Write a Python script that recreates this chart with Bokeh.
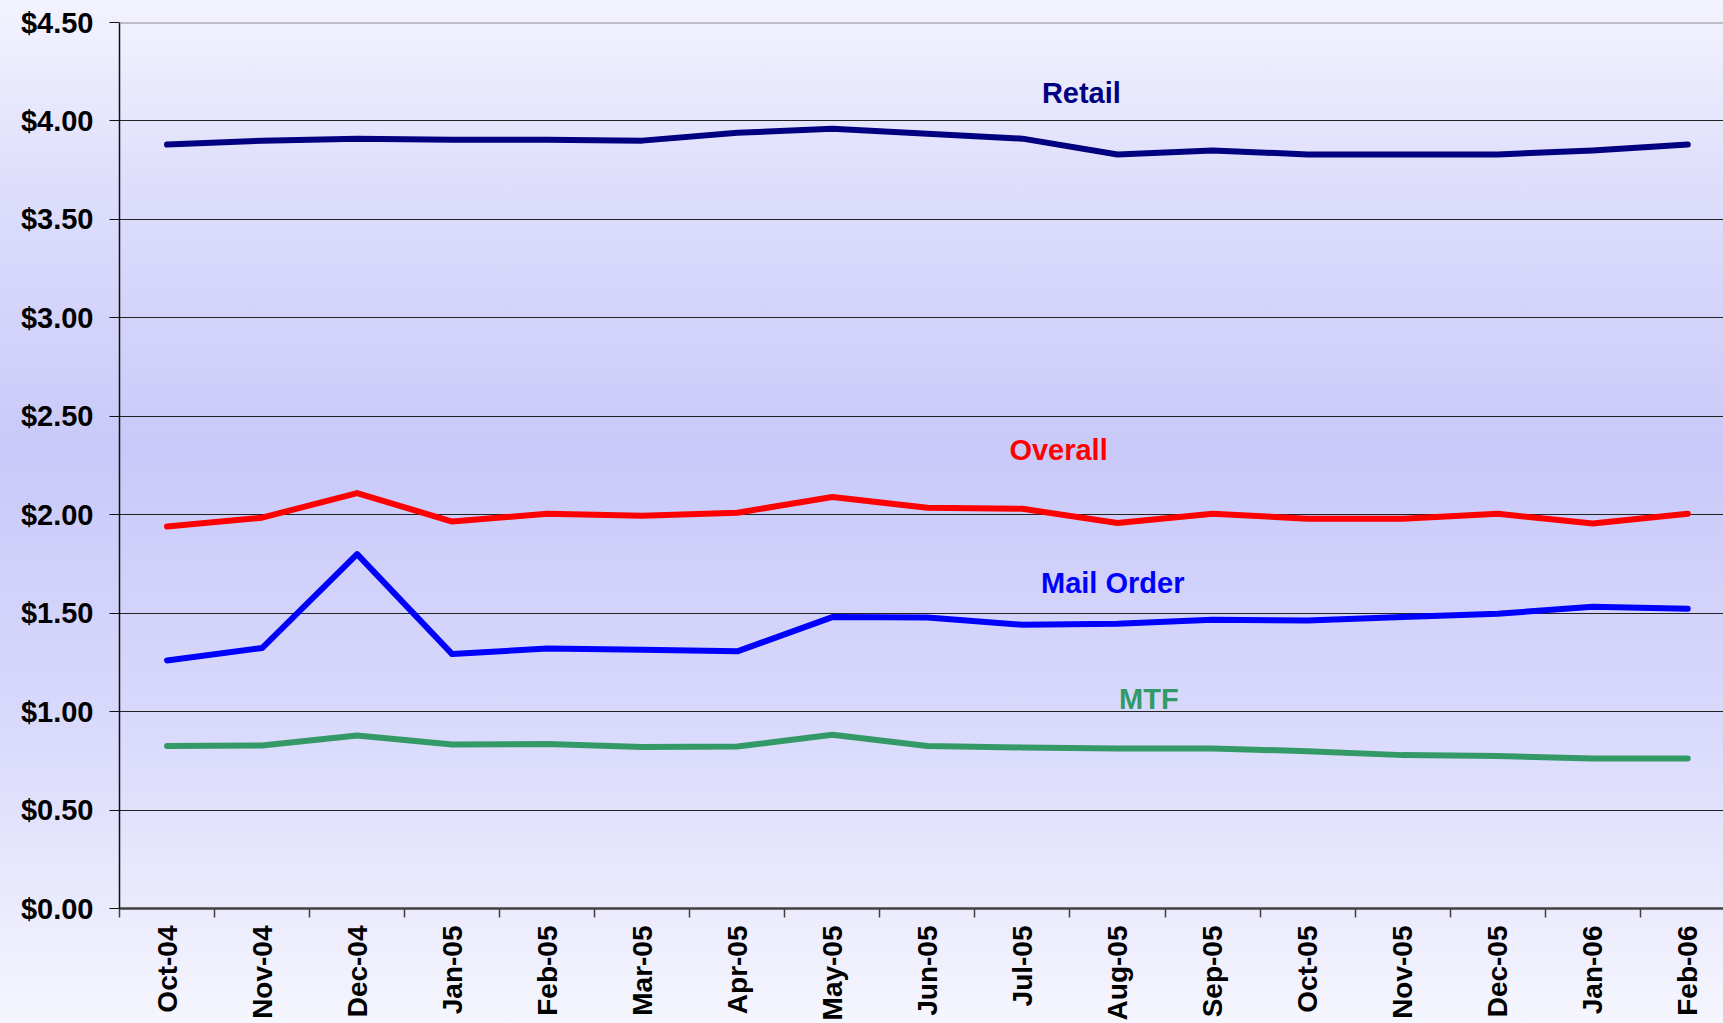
import math
from bokeh.plotting import figure
from bokeh.models import (Range1d, FixedTicker, NumeralTickFormatter, CustomJSTickFormatter,
                          Span, ColumnDataSource, InlineStyleSheet)
from bokeh.core.properties import value
from bokeh.embed import file_html
from bokeh.resources import INLINE

months = ["Oct-04", "Nov-04", "Dec-04", "Jan-05", "Feb-05", "Mar-05", "Apr-05", "May-05",
          "Jun-05", "Jul-05", "Aug-05", "Sep-05", "Oct-05", "Nov-05", "Dec-05", "Jan-06", "Feb-06"]

retail = [3.88, 3.90, 3.91, 3.905, 3.905, 3.90, 3.94, 3.96, 3.935, 3.91, 3.83, 3.85, 3.83,
          3.83, 3.83, 3.85, 3.88]
overall = [1.94, 1.985, 2.11, 1.965, 2.005, 1.995, 2.01, 2.09, 2.035, 2.03, 1.958, 2.005, 1.98,
           1.98, 2.005, 1.955, 2.005]
mail_order = [1.26, 1.323, 1.80, 1.292, 1.321, 1.314, 1.306, 1.48, 1.478, 1.441, 1.446, 1.466,
              1.463, 1.481, 1.497, 1.532, 1.523]
mtf = [0.825, 0.828, 0.879, 0.833, 0.836, 0.82, 0.823, 0.882, 0.825, 0.818, 0.813, 0.813,
       0.799, 0.779, 0.774, 0.762, 0.762]

series_names = ["Retail", "Overall", "Mail Order", "MTF"]
series_values = [retail, overall, mail_order, mtf]
series_colors = ["#000080", "#FF0000", "#0000FF", "#339966"]
y_ticks = [0.0, 0.5, 1.0, 1.5, 2.0, 2.5, 3.0, 3.5, 4.0, 4.5]

FONT = "Liberation Sans"

x_pos = [i + 0.5 for i in range(len(months))]

p = figure(width=1723, height=1023, output_backend="svg", toolbar_location=None,
           x_range=Range1d(0, 16.876), y_range=Range1d(0, 4.5),
           min_border_left=119, min_border_top=22, min_border_right=0, min_border_bottom=0)

p.stylesheets = [InlineStyleSheet(css=":host { background: linear-gradient(to bottom, #F3F3FE 0%, #DEDEFC 18%, #C9C9F9 44%, #DADAFC 72%, #F6F6FE 100%); }")]
p.background_fill_color = None
p.border_fill_color = None
p.outline_line_color = None

# lines
for vals, col in zip(series_values, series_colors):
    src = ColumnDataSource(dict(x=x_pos, y=vals))
    p.line("x", "y", source=src, line_color=col, line_width=6,
           line_cap="round", line_join="round")

# series labels
label_x = [10.12, 9.88, 10.45, 10.83]
label_y = [4.14, 2.33, 1.655, 1.065]
p.text(x=label_x, y=label_y, text=series_names, text_color=series_colors,
       text_font=value(FONT), text_font_style="bold", text_font_size="29px",
       text_align="center", text_baseline="middle")

# grid
p.xgrid.visible = False
p.ygrid.ticker = FixedTicker(ticks=y_ticks[1:-1])
p.ygrid.grid_line_color = "#222222"
p.ygrid.grid_line_width = 1
p.add_layout(Span(location=4.5, dimension="width", line_color="#8a8a8a", line_width=2))

# y axis
ya = p.yaxis[0]
ya.ticker = FixedTicker(ticks=y_ticks)
ya.formatter = NumeralTickFormatter(format="$0.00")
ya.major_label_text_font = FONT
ya.major_label_text_font_style = "bold"
ya.major_label_text_font_size = "29px"
ya.major_label_text_color = "#000000"
ya.major_tick_out = 10
ya.major_tick_in = 0
ya.minor_tick_out = 0
ya.minor_tick_in = 0
ya.major_label_standoff = 16
ya.axis_line_color = "#111111"
ya.axis_line_width = 1.5
ya.major_tick_line_color = "#111111"

# x axis
xa = p.xaxis[0]
xa.ticker = FixedTicker(ticks=x_pos, minor_ticks=list(range(len(months))))
xa.formatter = CustomJSTickFormatter(args=dict(labels=months),
                                     code="const i = Math.floor(tick); return (i >= 0 && i < labels.length) ? labels[i] : '';")
xa.major_label_orientation = math.pi / 2
xa.major_label_text_font = FONT
xa.major_label_text_font_style = "bold"
xa.major_label_text_font_size = "28px"
xa.major_label_text_color = "#000000"
xa.major_tick_out = 0
xa.major_tick_in = 0
xa.minor_tick_out = 9
xa.minor_tick_in = 0
xa.minor_tick_line_color = "#404040"
xa.minor_tick_line_width = 1.5
xa.major_label_standoff = 8
xa.axis_line_color = "#404040"
xa.axis_line_width = 2.5

open("out.html", "w").write(file_html(p, INLINE))
